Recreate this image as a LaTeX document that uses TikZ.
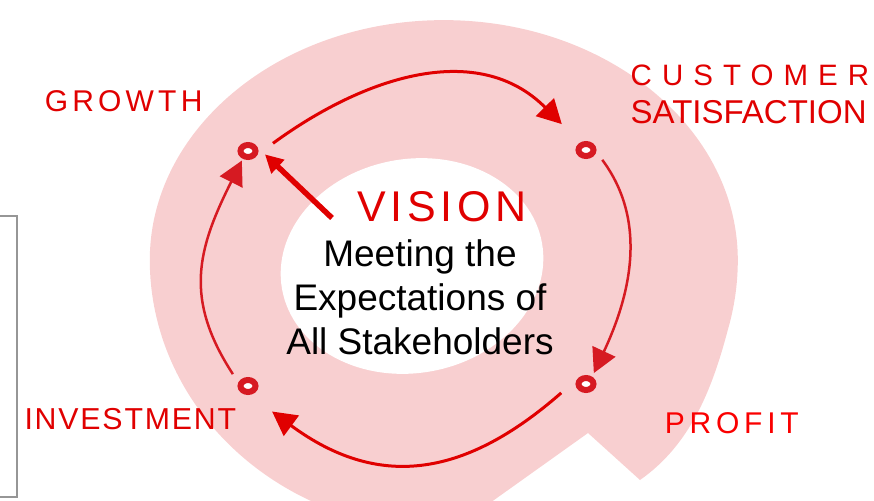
\documentclass[tikz,border=0pt]{standalone}
\usepackage{fontspec}
\setmainfont{Liberation Sans}
\usetikzlibrary{arrows.meta,shapes.geometric,positioning}
\newcommand\spaced[2]{\fontsize{#1}{#1}\selectfont\addfontfeature{LetterSpace=#2}}

\begin{document}
\begin{tikzpicture}[x=1pt, y=-1pt,
    dot/.style={ellipse, draw=dotred, line width=6pt, fill=white,
      minimum width=15pt, minimum height=12pt, inner sep=0pt},
    cyc/.style={line width=3pt, -{Triangle[length=24pt,width=25pt]}},
    visarrow/.style={line width=5.5pt, cycred, -{Triangle[length=18pt,width=18pt]}},
    lbl/.style={inner sep=0pt, anchor=base west, text=lblred},
    body/.style={inner sep=0pt, anchor=base, font=\fontsize{37}{44}\selectfont}]
  \definecolor{ringpink}{RGB}{248,207,208}
  \definecolor{cycred}{RGB}{224,0,0}
  \definecolor{dotred}{RGB}{214,26,34}
  \definecolor{lblred}{RGB}{224,0,0}
  \definecolor{profred}{RGB}{250,0,0}
  \definecolor{boxgray}{RGB}{150,150,150}
  \useasboundingbox (0,0) rectangle (874,500);
  % ring with tail
  \fill[ringpink] (452,530)
    arc[start angle=88.4, end angle=180, x radius=294, y radius=270]
    arc[start angle=180, end angle=360, x radius=294, y radius=240]
    arc[start angle=0, end angle=15, x radius=294, y radius=270]
    .. controls (712,390) and (690,445) .. (640,480) -- (588,433) -- cycle;
  \fill[white, rotate around={10:(412,266)}] (412,266) ellipse[x radius=132, y radius=107];
  % frame at the left
  \draw[boxgray, line width=1.5pt] (0,216) -| (17,497) -- (0,497);
  % stages
  \node[dot] (G) at (248,151) {};
  \node[dot] (C) at (586,150) {};
  \node[dot] (P) at (586,384) {};
  \node[dot] (I) at (248,386) {};
  % cycle
  \draw[cyc, cycred, shorten <=19pt, shorten >=26pt]
    (G.-20) .. controls (365,76) and (478,40) .. (C.128);
  \draw[cyc, dotred, line width=2.5pt, shorten <=10pt, shorten >=4pt]
    (C.-10) .. controls (650,224) and (628,300) .. (P.50);
  \draw[cyc, cycred, shorten <=23pt, shorten >=28pt]
    (P.140) .. controls (463,479) and (377,489) .. (I.-80);
  \draw[cyc, dotred, line width=2.5pt, shorten <=10pt, shorten >=2pt]
    (I.160) .. controls (184,299) and (197,250) .. (G.-124);
  % vision
  \coordinate (vtail) at (332,218);
  \draw[visarrow, shorten >=10pt] (vtail) -- (G.20);
  \node[lbl, font=\spaced{43}{11}] (vision) at (357,221) {VISION};
  \node[body] (meet1) at (420,266) {Meeting the};
  \node[body] (meet2) at ([yshift=-44pt]meet1.base) {Expectations of};
  \node[body] (meet3) at ([yshift=-44pt]meet2.base) {All Stakeholders};
  % labels
  \node[lbl, font=\spaced{30}{14}] (growth) at (44.6,111) {GROWTH};
  \node[lbl, font=\spaced{29.5}{34}] (customer) at (630.5,85) {CUSTOMER};
  \node[lbl, font=\fontsize{33}{33}\selectfont] (satisf) at ([yshift=-38pt]customer.base west) {SATISFACTION};
  \node[lbl, font=\spaced{30.3}{6}] (invest) at (24.3,429) {INVESTMENT};
  \node[lbl, text=profred, font=\spaced{30}{16}] (profit) at (664.6,433) {PROFIT};
\end{tikzpicture}
\end{document}
